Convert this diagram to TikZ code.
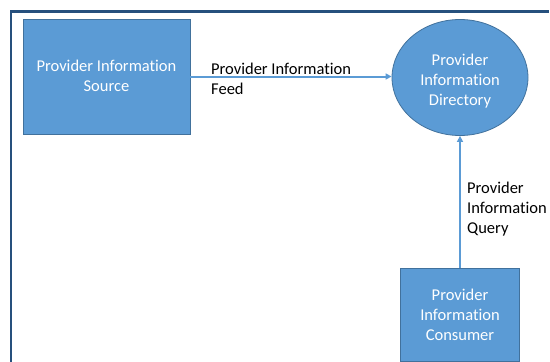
\documentclass[tikz,border=0pt]{standalone}
\usepackage{fontspec}
\setmainfont{Carlito}[Ligatures={NoCommon}]
\usetikzlibrary{arrows.meta,shapes.geometric}
\definecolor{fillblue}{HTML}{5B9BD5}
\definecolor{edgeblue}{HTML}{41719C}
\definecolor{frameblue}{RGB}{38,80,125}
\begin{document}
\begin{tikzpicture}[x=1pt,y=-1pt,
  shapebox/.style={draw=edgeblue,line width=0.8pt,fill=fillblue,text=white,align=center,
    font=\fontsize{16.5}{20}\selectfont,inner sep=0pt},
  lbl/.style={align=left,anchor=west,font=\fontsize{16.5}{20}\selectfont,inner sep=0pt,text=black},
  flow/.style={draw=fillblue,line width=2pt,-{Triangle[length=6pt,width=6pt]}}]
\useasboundingbox (0,0) rectangle (550,362);
\fill[white] (0,0) rectangle (550,362);
\draw[frameblue,line width=2.5pt] (11,362) -- (11,11.5) -- (549,11.5);
\node[shapebox,rectangle,minimum width=167pt,minimum height=115pt] (src) at (106.5,76.5) {\raisebox{0pt}[\dimexpr\height+2pt][\depth]{\begin{tabular}{@{}c@{}}Provider Information\\Source\end{tabular}}};
\node[shapebox,ellipse,minimum width=136pt,minimum height=116pt] (dir) at (460,77.5) {\raisebox{0pt}[\dimexpr\height+7pt][\depth]{\begin{tabular}{@{}c@{}}Provider\\Information\\Directory\end{tabular}}};
\node[shapebox,rectangle,minimum width=119pt,minimum height=93pt] (con) at (460,314.5) {Provider\\Information\\Consumer};
\draw[flow] (src.east) -- (src.east -| dir.west);
\draw[flow] (con.north) -- (dir.south);
\node[lbl] (feed) at (211,78.5) {Provider Information\\Feed};
\node[lbl] (query) at (467,209.5) {Provider\\Information\\Query};
\end{tikzpicture}
\end{document}
